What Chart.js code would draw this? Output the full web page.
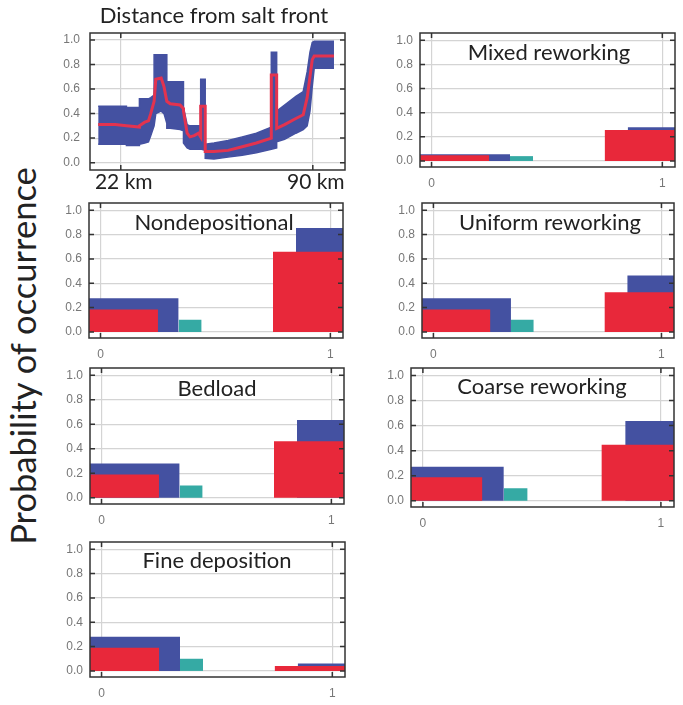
<!DOCTYPE html>
<html lang="en">
<head>
    <meta charset="UTF-8">
    <title>Probability of occurrence</title>
    <script src="https://cdn.jsdelivr.net/npm/chart.js"></script>
    <style>
        body { margin: 0; background: #fff; }
        #page { position: relative; width: 683px; height: 705px; overflow: hidden; font-family: Lato, sans-serif; }
        .label { position: absolute; transform: translate(-50%, -50%); white-space: nowrap; color: #222; font-size: 22px; line-height: 26px; }
        #yTitle { position: absolute; left: 22px; top: 356px; transform: translate(-50%, -50%) rotate(-90deg); font-size: 34.5px; white-space: nowrap; color: #222; }
    </style>
</head>
<body>
    <div id="page">
        <div id="yTitle">Probability of occurrence</div>
    </div>
    <script>
        // top panel: distance from salt front
        const distanceKm   = [14.0, 20.0, 24.0, 24.0, 28.6, 28.6, 30.5, 31.8, 32.6, 33.8, 33.8, 34.4, 36.3, 37.3, 38.3, 38.3, 39.5, 43.0, 44.2, 44.2, 45.5, 46.5, 48.0, 49.5, 50.3, 50.3, 51.9, 51.9, 55.0, 60.0, 65.0, 70.0, 75.3, 75.3, 77.2, 77.2, 80.0, 84.0, 86.6, 88.0, 89.0, 89.8, 90.5, 97.5];
        const distanceLow  = [0.15, 0.15, 0.15, 0.14, 0.14, 0.15, 0.16, 0.17, 0.22, 0.30, 0.30, 0.40, 0.42, 0.40, 0.32, 0.28, 0.28, 0.27, 0.26, 0.16, 0.12, 0.11, 0.11, 0.11, 0.11, 0.11, 0.10, 0.035, 0.03, 0.045, 0.06, 0.08, 0.11, 0.11, 0.12, 0.17, 0.19, 0.24, 0.27, 0.30, 0.42, 0.62, 0.77, 0.77];
        const distanceMean = [0.31, 0.31, 0.30, 0.30, 0.29, 0.30, 0.33, 0.34, 0.40, 0.50, 0.50, 0.68, 0.69, 0.62, 0.50, 0.50, 0.48, 0.47, 0.44, 0.42, 0.24, 0.21, 0.22, 0.24, 0.21, 0.46, 0.46, 0.09, 0.09, 0.10, 0.13, 0.16, 0.20, 0.715, 0.715, 0.28, 0.31, 0.36, 0.39, 0.53, 0.70, 0.84, 0.87, 0.87];
        const distanceHigh = [0.46, 0.46, 0.46, 0.45, 0.45, 0.52, 0.52, 0.52, 0.53, 0.55, 0.88, 0.88, 0.88, 0.88, 0.88, 0.66, 0.66, 0.66, 0.66, 0.45, 0.31, 0.30, 0.30, 0.30, 0.30, 0.68, 0.68, 0.15, 0.16, 0.18, 0.21, 0.24, 0.29, 0.90, 0.90, 0.42, 0.47, 0.54, 0.58, 0.74, 0.90, 0.98, 0.99, 0.99];
        const distanceTicks = [22, 90];
        const distanceTickLabels = ['22 km', '90 km'];

        // state panels
        const probTicks = [0, 0.2, 0.4, 0.6, 0.8, 1.0];
        const stateTicks = [0, 1];
        const redBins  = [[-0.25, 0.25], [0.75, 1.25]];
        const blueBins = [[-0.16, 0.34], [0.85, 1.35]];
        const tealBins = [[0.34, 0.44], [1.34, 1.44]];

        const panelNames = ['Mixed reworking', 'Nondepositional', 'Uniform reworking', 'Bedload', 'Coarse reworking', 'Fine deposition'];
        const redValues  = [[0.047, 0.256], [0.185, 0.66], [0.185, 0.326], [0.19, 0.463], [0.187, 0.448], [0.19, 0.04]];
        const blueValues = [[0.055, 0.28], [0.276, 0.855], [0.276, 0.463], [0.28, 0.635], [0.272, 0.637], [0.28, 0.062]];
        const tealValues = [[0.04, 0], [0.10, 0], [0.10, 0], [0.10, 0], [0.099, 0], [0.10, 0]];

        // layout (plot boxes on the page)
        const AXIS_W = 40, AXIS_H = 30, PAD = 8;
        const panelBoxes = [[420, 33, 675, 167], [89, 203, 343, 338], [422, 203, 674, 338], [90, 368, 344, 504], [411, 368, 674, 507], [90, 542, 345, 677]];
        const titleCenters = [[549, 52], [214, 222], [550, 222], [217, 388], [542, 386], [217, 560]];

        const BLUE = '#4451a1', RED = '#e8283a', TEAL = '#35aaa4';

        Chart.defaults.font.family = "'Liberation Sans', Arial, sans-serif";
        Chart.defaults.animation = false;
        Chart.defaults.plugins.legend.display = false;
        Chart.defaults.plugins.tooltip.enabled = false;

        const page = document.getElementById('page');

        const framePlugin = {
            id: 'frame',
            afterDraw(chart) {
                const { ctx, chartArea: a, scales } = chart;
                ctx.save();
                ctx.strokeStyle = '#333';
                ctx.lineWidth = 1.5;
                ctx.beginPath();
                scales.y.ticks.forEach(t => {
                    const y = scales.y.getPixelForValue(t.value);
                    ctx.moveTo(a.left, y); ctx.lineTo(a.left + 5, y);
                    ctx.moveTo(a.right, y); ctx.lineTo(a.right - 5, y);
                });
                scales.x.ticks.forEach(t => {
                    const x = scales.x.getPixelForValue(t.value);
                    ctx.moveTo(x, a.bottom); ctx.lineTo(x, a.bottom - 5);
                    ctx.moveTo(x, a.top); ctx.lineTo(x, a.top + 5);
                });
                ctx.stroke();
                ctx.strokeRect(a.left, a.top, a.right - a.left, a.bottom - a.top);
                ctx.restore();
            }
        };

        function addCanvas(box) {
            const c = document.createElement('canvas');
            const w = box[2] - box[0] + AXIS_W + PAD;
            const h = box[3] - box[1] + AXIS_H + PAD;
            c.width = w; c.height = h;
            c.style.position = 'absolute';
            c.style.left = (box[0] - AXIS_W) + 'px';
            c.style.top = (box[1] - PAD) + 'px';
            page.appendChild(c);
            return c;
        }

        function addLabel(text, cx, cy) {
            const d = document.createElement('div');
            d.className = 'label';
            d.textContent = text;
            d.style.left = cx + 'px';
            d.style.top = cy + 'px';
            page.appendChild(d);
        }

        function probAxis(min, max, pad) {
            return {
                min: min, max: max,
                afterBuildTicks: a => { a.ticks = probTicks.map(v => ({ value: v })); },
                afterFit: s => { s.width = AXIS_W; s.paddingTop = 0; s.paddingBottom = 0; },
                grid: { color: '#d4d4d4', drawTicks: false, lineWidth: 1.2 },
                border: { display: false },
                ticks: { color: '#777', padding: pad, font: { size: 12 }, callback: v => v.toFixed(1) }
            };
        }

        function xAxis(min, max, ticks, labels, font, color, pad, offset) {
            return {
                type: 'linear', min: min, max: max,
                afterBuildTicks: a => { a.ticks = ticks.map(v => ({ value: v })); },
                afterFit: s => { s.height = AXIS_H; s.paddingLeft = 0; s.paddingRight = 0; },
                grid: { color: '#d4d4d4', drawTicks: false, lineWidth: 1.2 },
                border: { display: false },
                ticks: { color: color, padding: pad, labelOffset: offset, font: font, maxRotation: 0, autoSkip: false, callback: (v, i) => labels[i] }
            };
        }

        const layout = { padding: { top: PAD, right: PAD, left: 0, bottom: 0 } };

        // distance panel
        const topBox = [90, 33, 345, 170];
        new Chart(addCanvas(topBox), {
            type: 'line',
            data: {
                datasets: [
                    { data: distanceKm.map((x, i) => ({ x: x, y: distanceHigh[i] })), borderColor: BLUE, borderWidth: 1.5, backgroundColor: BLUE, fill: '+1', pointRadius: 0, tension: 0, order: 1 },
                    { data: distanceKm.map((x, i) => ({ x: x, y: distanceLow[i] })), borderColor: BLUE, borderWidth: 1.5, fill: false, pointRadius: 0, tension: 0, order: 1 },
                    { data: distanceKm.map((x, i) => ({ x: x, y: distanceMean[i] })), borderColor: '#e3334f', borderWidth: 3, fill: false, pointRadius: 0, tension: 0, order: 0 }
                ]
            },
            options: {
                responsive: false,
                layout: layout,
                scales: {
                    x: xAxis(11.1, 101.4, distanceTicks, distanceTickLabels, { family: 'Lato', size: 21 }, '#222', 0, 3),
                    y: probAxis(-0.06, 1.057, 10)
                }
            },
            plugins: [framePlugin]
        });
        addLabel('Distance from salt front', 214, 15);

        // state panels
        function rect(bin, h, color, order) {
            return { data: [{ x: bin[0], y: h }, { x: bin[1], y: h }], borderWidth: 0, pointRadius: 0, fill: 'origin', backgroundColor: color, order: order };
        }

        panelNames.forEach((name, p) => {
            const datasets = [];
            for (let j = 0; j < 2; j++) {
                datasets.push(rect(blueBins[j], blueValues[p][j], BLUE, 2));
                datasets.push(rect(tealBins[j], tealValues[p][j], TEAL, 1));
                datasets.push(rect(redBins[j], redValues[p][j], RED, 0));
            }
            new Chart(addCanvas(panelBoxes[p]), {
                type: 'line',
                data: { datasets: datasets },
                options: {
                    responsive: false,
                    layout: layout,
                    scales: {
                        x: xAxis(-0.05, 1.055, stateTicks, ['0', '1'], { size: 12 }, '#777', 9, 0),
                        y: probAxis(-0.05, 1.06, 7)
                    }
                },
                plugins: [framePlugin]
            });
            addLabel(name, titleCenters[p][0], titleCenters[p][1]);
        });
    </script>
</body>
</html>
